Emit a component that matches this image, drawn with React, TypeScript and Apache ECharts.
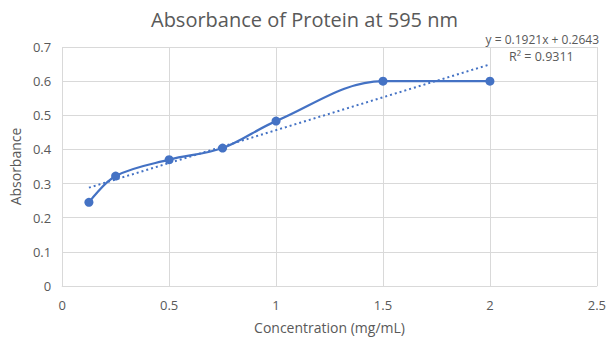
import React, { useEffect, useRef } from "react";
import * as echarts from "echarts";

const concentration = [0.125, 0.25, 0.5, 0.75, 1, 1.5, 2];
const absorbance = [0.245, 0.322, 0.37, 0.404, 0.483, 0.6, 0.6];
const trendX = [0.125, 2];
const trendY = [0.288, 0.649];
const xTicks = [0, 0.5, 1, 1.5, 2, 2.5];
const yTicks = [0, 0.1, 0.2, 0.3, 0.4, 0.5, 0.6, 0.7];
const titleText = "Absorbance of Protein at 595 nm";
const equationText = "y = 0.1921x + 0.2643";
const r2Text = "R² = 0.9311";

const FONT = "Open Sans";
const GRAY = "#595959";
const BLUE = "#4472C4";

export default function App() {
  const ref = useRef<HTMLDivElement>(null);
  useEffect(() => {
    if (!ref.current) return;
    const chart = echarts.init(ref.current, undefined, { renderer: "svg" });
    chart.setOption({
      animation: false,
      backgroundColor: "#ffffff",
      textStyle: { fontFamily: FONT },
      title: {
        text: titleText,
        left: "center",
        top: 4,
        textStyle: { fontFamily: FONT, fontSize: 20, fontWeight: "normal", color: GRAY },
      },
      grid: { left: 56, right: 12, top: 47, bottom: 53 },
      xAxis: {
        type: "value",
        min: xTicks[0],
        max: xTicks[xTicks.length - 1],
        interval: 0.5,
        name: "Concentration (mg/mL)",
        nameLocation: "middle",
        nameGap: 34,
        nameTextStyle: { color: GRAY, fontSize: 14, fontFamily: FONT },
        axisLine: { show: true, lineStyle: { color: "#d9d9d9", width: 1 } },
        axisTick: { show: false },
        axisLabel: { color: GRAY, fontSize: 13, margin: 12, fontFamily: FONT },
        splitLine: { show: true, lineStyle: { color: "#d9d9d9", width: 1 } },
      },
      yAxis: {
        type: "value",
        min: yTicks[0],
        max: yTicks[yTicks.length - 1],
        interval: 0.1,
        name: "Absorbance",
        nameLocation: "middle",
        nameGap: 37,
        nameRotate: 90,
        nameTextStyle: { color: GRAY, fontSize: 14, fontFamily: FONT },
        axisLine: { show: false },
        axisTick: { show: false },
        axisLabel: { color: GRAY, fontSize: 13, margin: 11, fontFamily: FONT },
        splitLine: { show: true, lineStyle: { color: "#d9d9d9", width: 1 } },
      },
      series: [
        {
          type: "line",
          data: concentration.map((x, i) => [x, absorbance[i]]),
          smooth: 0.35,
          symbol: "circle",
          symbolSize: 9,
          itemStyle: { color: BLUE },
          lineStyle: { color: BLUE, width: 2.25 },
          z: 3,
        },
        {
          type: "line",
          data: trendX.map((x, i) => [x, trendY[i]]),
          symbol: "none",
          lineStyle: { color: BLUE, width: 2, type: [2, 3] },
          z: 2,
        },
      ],
      graphic: [
        {
          type: "text",
          right: 10,
          top: 33,
          style: { text: equationText, fill: GRAY, font: `12px "${FONT}"` },
        },
        {
          type: "text",
          left: 509,
          top: 50,
          style: { text: r2Text, fill: GRAY, font: `12.5px "${FONT}"` },
        },
      ],
    });
    return () => chart.dispose();
  }, []);
  return (
    <div
      ref={ref}
      style={{ position: "fixed", left: 0, top: 0, width: 609, height: 339 }}
    />
  );
}
